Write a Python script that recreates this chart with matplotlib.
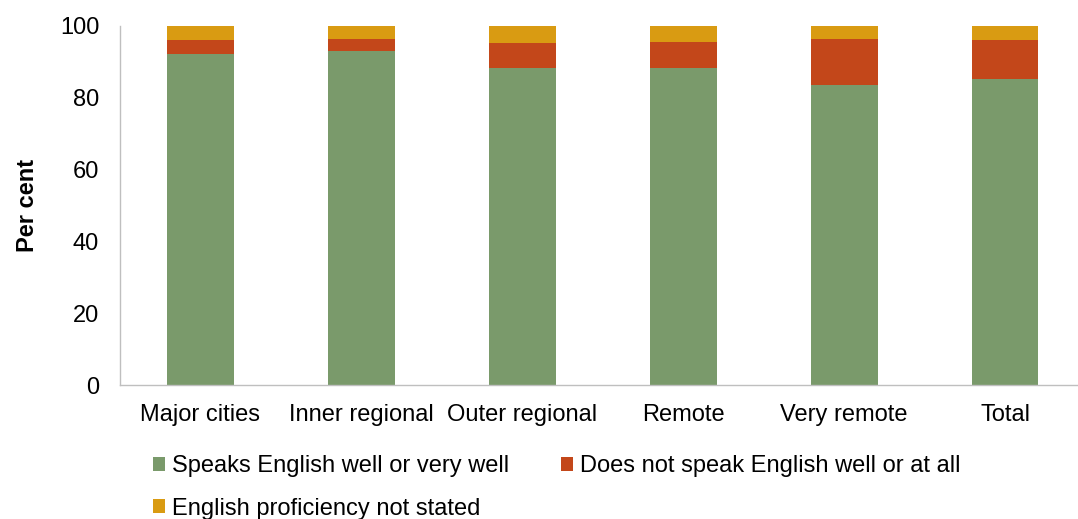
import matplotlib
matplotlib.use("Agg")
import matplotlib.pyplot as plt
import numpy as np

plt.rcParams["font.family"] = ["Liberation Sans", "DejaVu Sans"]

categories = ["Major cities", "Inner regional", "Outer regional", "Remote",
              "Very remote", "Total"]
speaks_well = [92.3, 93.0, 88.3, 88.4, 83.5, 85.2]
not_well = [3.8, 3.4, 7.0, 7.2, 13.0, 11.0]
not_stated = [3.9, 3.6, 4.7, 4.4, 3.5, 3.8]

labels = ["Speaks English well or very well",
          "Does not speak English well or at all",
          "English proficiency not stated"]
colors = ["#7A9A6B", "#C3471A", "#D99B12"]

W, H = 1078, 519
FS = 17
fig = plt.figure(figsize=(W / 100, H / 100), dpi=100)
ax = fig.add_axes([120 / W, (H - 385) / H, (W - 120) / W, 359 / H])

x = np.arange(len(categories))
bw = 0.415
b1 = ax.bar(x, speaks_well, bw, color=colors[0])
b2 = ax.bar(x, not_well, bw, bottom=speaks_well, color=colors[1])
bot = np.array(speaks_well) + np.array(not_well)
b3 = ax.bar(x, not_stated, bw, bottom=bot, color=colors[2])

ax.set_xlim(-0.5, 5.5 - 7.5 / 161)
ax.set_ylim(0, 100)
ax.set_yticks(range(0, 101, 20))
ax.set_xticks(x)
ax.set_xticklabels(categories)
ax.tick_params(axis="both", length=0, labelsize=FS, colors="black")
ax.tick_params(axis="x", pad=14)
ax.tick_params(axis="y", pad=15)
for s in ["top", "right"]:
    ax.spines[s].set_visible(False)
for s in ["left", "bottom"]:
    ax.spines[s].set_color("#BFBFBF")
    ax.spines[s].set_linewidth(1)

ax.set_ylabel("Per cent", fontsize=FS, fontweight="bold", labelpad=15)

# column-major fill: b1, b3 in the first column, b2 in the second
fig.legend(handles=[b1, b3, b2], labels=[labels[0], labels[2], labels[1]],
           ncol=2, frameon=False, fontsize=FS, loc="upper left",
           bbox_to_anchor=(144 / W, 1 - 446 / H),
           handlelength=0.5, handleheight=0.5, handletextpad=0.3,
           columnspacing=2.2, labelspacing=0.85, borderaxespad=0)

fig.savefig("out.png", dpi=100)
